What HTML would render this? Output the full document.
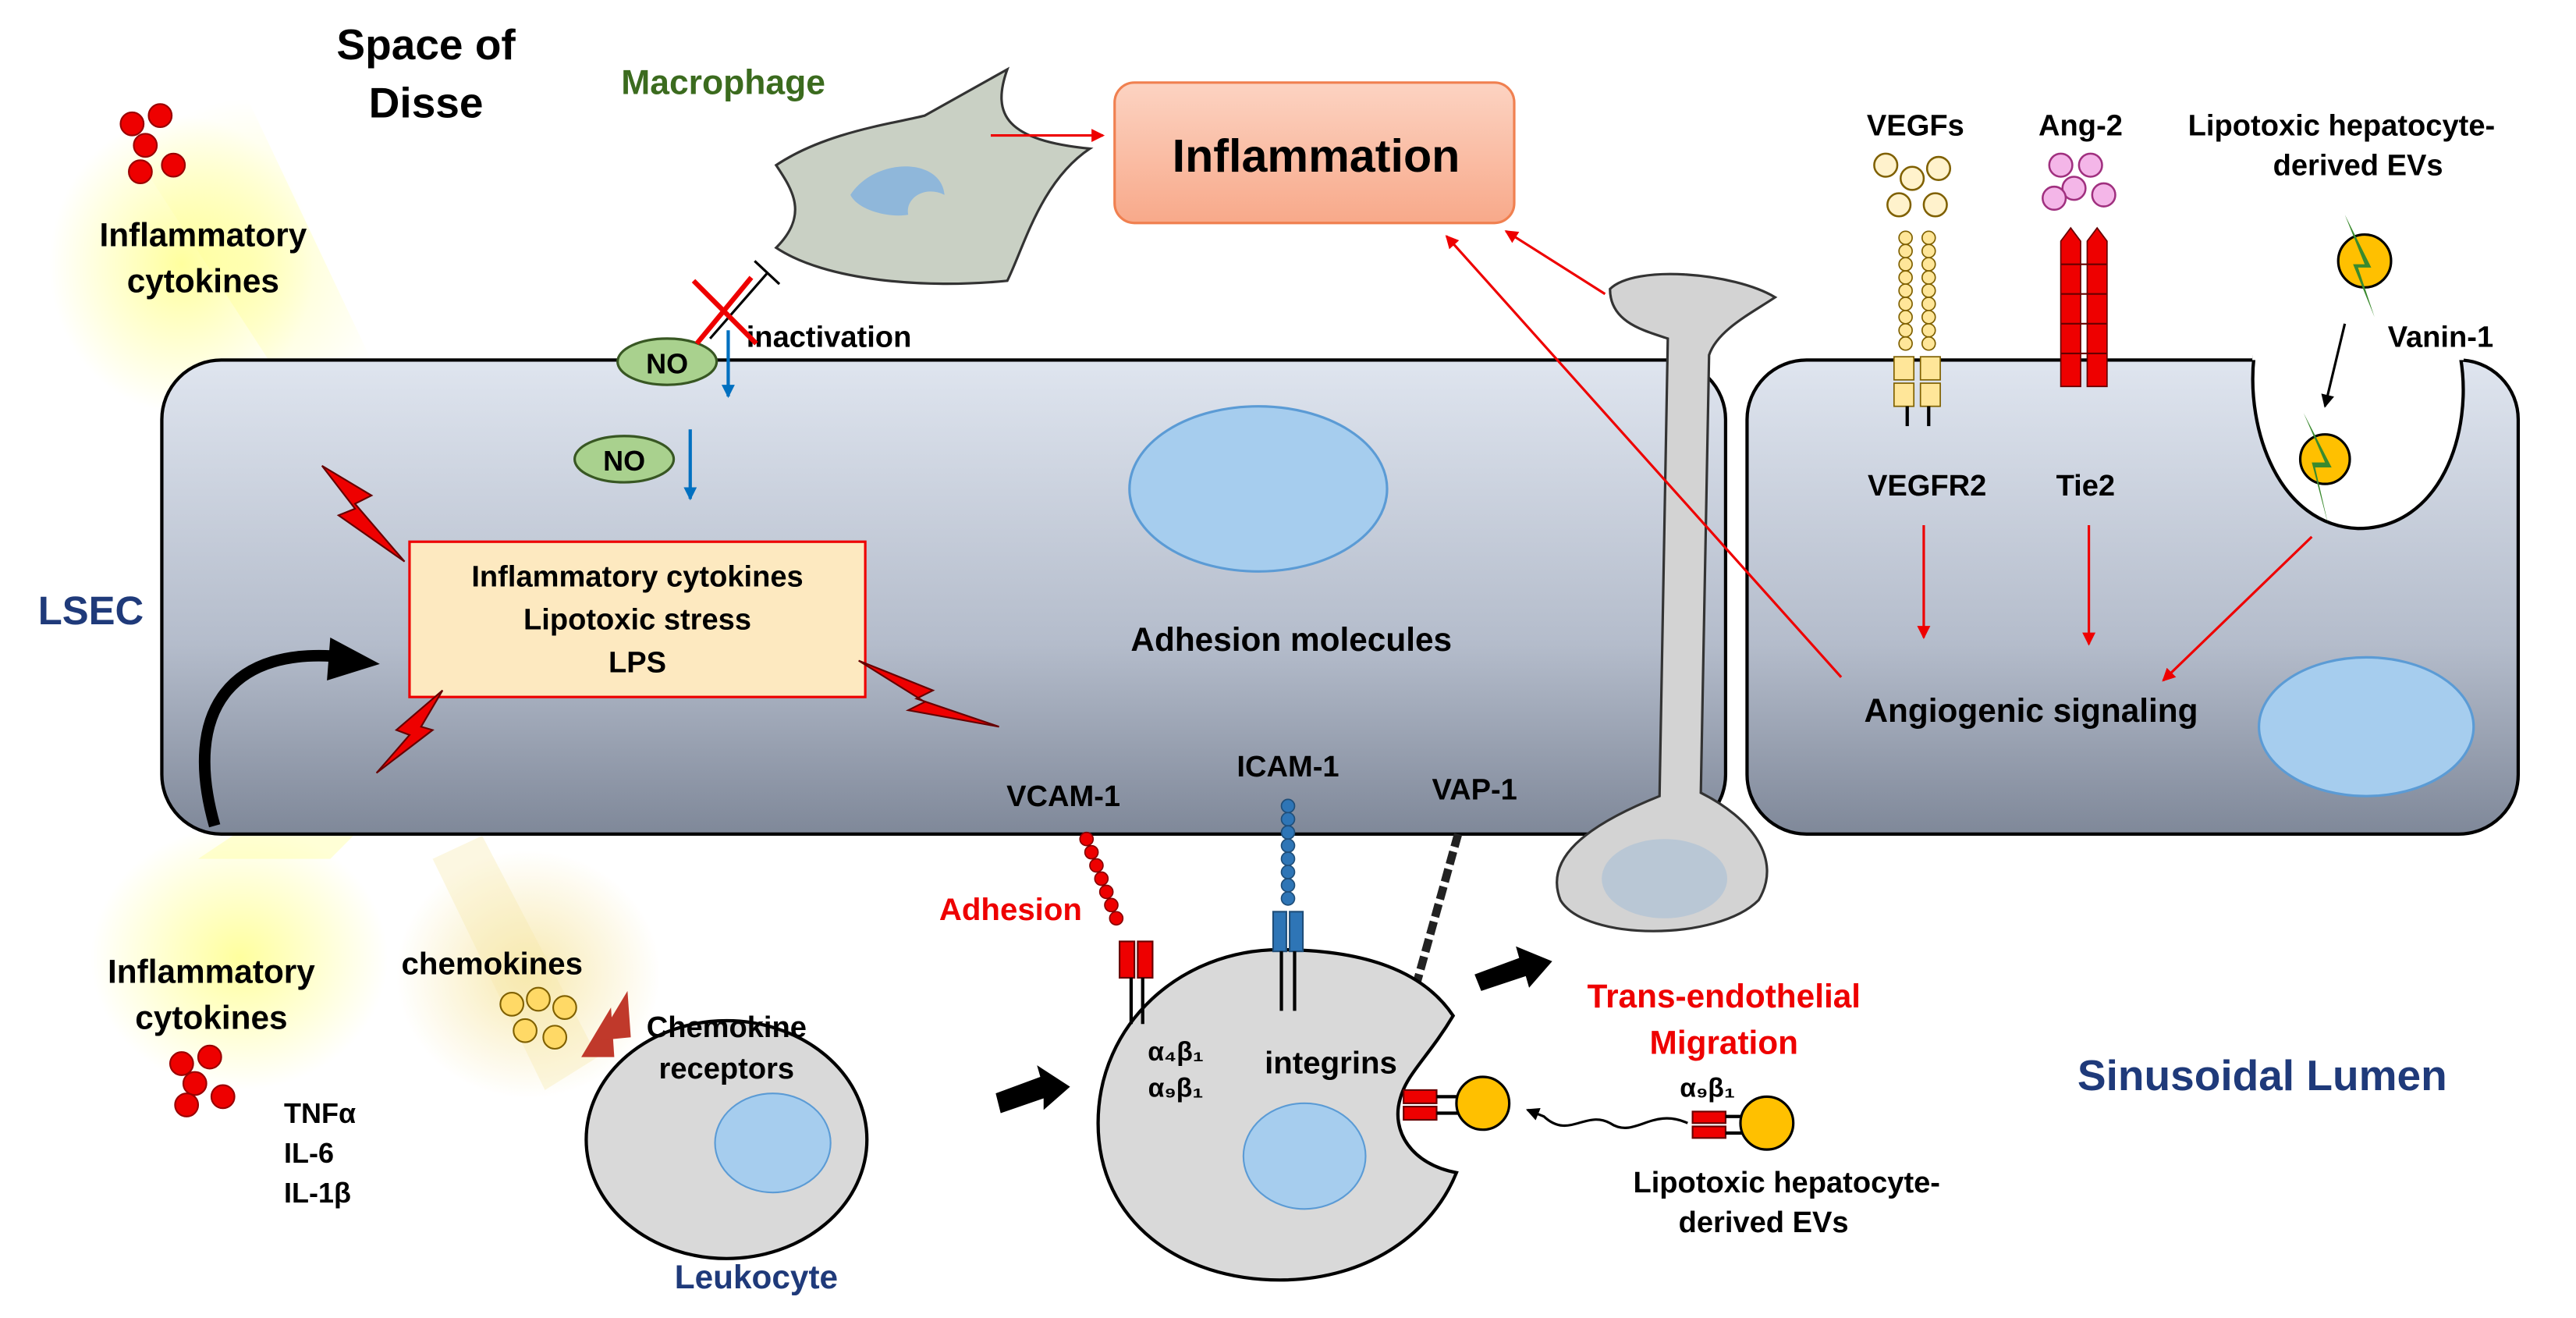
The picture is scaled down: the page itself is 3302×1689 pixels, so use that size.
<!DOCTYPE html>
<html><head><meta charset="utf-8"><style>
html,body{margin:0;padding:0;background:#fff}
svg{display:block}
text{font-family:"Liberation Sans",Arial,sans-serif;font-weight:bold}
</style></head><body>
<svg width="3302" height="1689" viewBox="0 0 1560 798" preserveAspectRatio="none" xmlns="http://www.w3.org/2000/svg">
<defs>
<linearGradient id="cell" x1="0" y1="0" x2="0" y2="1">
<stop offset="0" stop-color="#dfe5ef"/><stop offset="0.6" stop-color="#b4bccb"/><stop offset="1" stop-color="#7f8899"/></linearGradient>
<radialGradient id="glow"><stop offset="0" stop-color="#ffff99" stop-opacity="0.95"/><stop offset="1" stop-color="#ffff99" stop-opacity="0"/></radialGradient>
<radialGradient id="glow2"><stop offset="0" stop-color="#f7e7a8" stop-opacity="0.9"/><stop offset="1" stop-color="#f7e7a8" stop-opacity="0"/></radialGradient>
<linearGradient id="infl" x1="0" y1="0" x2="0" y2="1"><stop offset="0" stop-color="#fcd3c2"/><stop offset="1" stop-color="#f8a98a"/></linearGradient>
<marker id="ar" markerWidth="8" markerHeight="8" refX="7" refY="4" orient="auto" markerUnits="userSpaceOnUse"><path d="M0,0 L8,4 L0,8z" fill="#e00"/></marker>
<marker id="ab" markerWidth="8" markerHeight="8" refX="7" refY="4" orient="auto" markerUnits="userSpaceOnUse"><path d="M0,0 L8,4 L0,8z" fill="#0070c0"/></marker>
<marker id="ak" markerWidth="8" markerHeight="8" refX="7" refY="4" orient="auto" markerUnits="userSpaceOnUse"><path d="M0,0 L8,4 L0,8z" fill="#000"/></marker>
</defs>

<!-- glows -->
<ellipse cx="110" cy="160" rx="80" ry="90" fill="url(#glow)"/>
<path d="M60,60 L150,60 L240,250 L190,260z" fill="url(#glow)" opacity="0.6"/>
<ellipse cx="145" cy="580" rx="90" ry="80" fill="url(#glow)"/>
<path d="M120,520 L200,520 L250,470 L210,460z" fill="#ffff99" opacity="0.4"/>
<ellipse cx="320" cy="590" rx="80" ry="75" fill="url(#glow2)"/>
<path d="M262,520 L292,506 L362,640 L330,660z" fill="#f7e7a8" opacity="0.35"/>

<!-- LSEC cells -->
<rect x="98" y="218" width="947" height="287" rx="36" fill="url(#cell)" stroke="#000" stroke-width="2"/>
<rect x="1058" y="218" width="467" height="287" rx="36" fill="url(#cell)" stroke="#000" stroke-width="2"/>
<path d="M1365,216 C1360,260 1380,318 1428,320 C1478,320 1498,262 1490,216 z" fill="#fff" stroke="#000" stroke-width="2"/>
<rect x="1364" y="205" width="128" height="13" fill="#fff"/>

<ellipse cx="762" cy="296" rx="78" ry="50" fill="#a6cdee" stroke="#5b9bd5" stroke-width="1.5"/>
<ellipse cx="1433" cy="440" rx="65" ry="42" fill="#a6cdee" stroke="#5b9bd5" stroke-width="1.5"/>

<!-- migrating cell -->
<path d="M975,175 C990,160 1050,165 1075,180 C1060,190 1040,200 1035,215 L1030,480 C1060,495 1080,520 1065,545 C1040,570 960,570 945,545 C935,520 960,500 1005,482 L1010,205 C995,200 975,195 975,175z" fill="#d3d3d3" stroke="#333" stroke-width="1.5"/>
<ellipse cx="1008" cy="532" rx="38" ry="24" fill="#b3c4d6" opacity="0.8"/>

<!-- macrophage -->
<path d="M470,100 C500,80 540,75 560,70 L610,42 C600,70 610,85 660,90 C630,110 620,150 610,170 C560,175 500,170 470,150 C490,130 480,115 470,100z" fill="#c9d0c4" stroke="#333" stroke-width="1.5"/>
<path d="M515,118 C530,95 570,95 572,118 C560,112 548,120 550,130 C540,132 520,128 515,118z" fill="#8fb7da"/>
<text x="438" y="57" font-size="21" fill="#3b6b1e" text-anchor="middle">Macrophage</text>
<text x="258" y="36" font-size="26" text-anchor="middle">Space of</text>
<text x="258" y="71" font-size="26" text-anchor="middle">Disse</text>

<!-- inflammation -->
<rect x="675" y="50" width="242" height="85" rx="12" fill="url(#infl)" stroke="#f08050" stroke-width="1.5"/>
<text x="797" y="104" font-size="28" text-anchor="middle">Inflammation</text>
<line x1="600" y1="82" x2="668" y2="82" stroke="#e00" stroke-width="1.5" marker-end="url(#ar)"/>
<line x1="972" y1="178" x2="912" y2="140" stroke="#e00" stroke-width="1.5" marker-end="url(#ar)"/>
<line x1="1115" y1="410" x2="876" y2="143" stroke="#e00" stroke-width="1.5" marker-end="url(#ar)"/>

<!-- cytokine dots -->
<g fill="#e00" stroke="#900" stroke-width="1">
<circle cx="80" cy="75" r="7"/><circle cx="97" cy="70" r="7"/><circle cx="88" cy="88" r="7"/><circle cx="105" cy="100" r="7"/><circle cx="85" cy="104" r="7"/>
<circle cx="110" cy="644" r="7"/><circle cx="127" cy="640" r="7"/><circle cx="118" cy="656" r="7"/><circle cx="135" cy="664" r="7"/><circle cx="113" cy="669" r="7"/>
</g>
<text x="123" y="149" font-size="20" text-anchor="middle">Inflammatory</text>
<text x="123" y="177" font-size="20" text-anchor="middle">cytokines</text>
<text x="128" y="595" font-size="20" text-anchor="middle">Inflammatory</text>
<text x="128" y="623" font-size="20" text-anchor="middle">cytokines</text>
<text x="172" y="680" font-size="17">TNFα</text>
<text x="172" y="704" font-size="17">IL-6</text>
<text x="172" y="728" font-size="17">IL-1β</text>

<text x="55" y="378" font-size="24" fill="#1f3a7a" text-anchor="middle">LSEC</text>

<!-- stress box -->
<rect x="248" y="328" width="276" height="94" fill="#fde9c0" stroke="#e00" stroke-width="1.5"/>
<text x="386" y="355" font-size="18" text-anchor="middle">Inflammatory cytokines</text>
<text x="386" y="381" font-size="18" text-anchor="middle">Lipotoxic stress</text>
<text x="386" y="407" font-size="18" text-anchor="middle">LPS</text>

<!-- lightning -->
<g fill="#e00" stroke="#600" stroke-width="1">
<path d="M195,282 L225,300 L215,305 L245,340 L205,312 L215,308z"/>
<path d="M520,400 L565,418 L555,423 L605,440 L550,430 L560,425z"/>
<path d="M268,418 L255,440 L262,442 L228,468 L248,445 L240,442z"/>
</g>
<path d="M130,500 C110,430 140,390 210,398" fill="none" stroke="#000" stroke-width="7"/>
<path d="M200,386 L230,402 L198,412z" fill="#000"/>

<!-- NO -->
<ellipse cx="404" cy="219" rx="30" ry="14" fill="#a9d18e" stroke="#385723" stroke-width="1.5"/>
<text x="404" y="226" font-size="17" text-anchor="middle">NO</text>
<ellipse cx="378" cy="278" rx="30" ry="14" fill="#a9d18e" stroke="#385723" stroke-width="1.5"/>
<text x="378" y="285" font-size="17" text-anchor="middle">NO</text>
<line x1="441" y1="200" x2="441" y2="240" stroke="#0070c0" stroke-width="2" marker-end="url(#ab)"/>
<line x1="418" y1="260" x2="418" y2="302" stroke="#0070c0" stroke-width="2" marker-end="url(#ab)"/>
<text x="452" y="210" font-size="18">inactivation</text>
<line x1="430" y1="205" x2="465" y2="165" stroke="#000" stroke-width="1.5"/>
<line x1="457" y1="158" x2="472" y2="172" stroke="#000" stroke-width="1.5"/>
<line x1="420" y1="170" x2="458" y2="208" stroke="#e00" stroke-width="3"/>
<line x1="455" y1="168" x2="422" y2="208" stroke="#e00" stroke-width="3"/>

<text x="782" y="394" font-size="20" text-anchor="middle">Adhesion molecules</text>

<!-- receptors on LSEC bottom -->
<text x="644" y="488" font-size="18" text-anchor="middle">VCAM-1</text>
<text x="780" y="470" font-size="18" text-anchor="middle">ICAM-1</text>
<text x="893" y="484" font-size="18" text-anchor="middle">VAP-1</text>
<g fill="#e00" stroke="#800" stroke-width="0.8">
<circle cx="658" cy="508" r="4"/><circle cx="661" cy="516" r="4"/><circle cx="664" cy="524" r="4"/><circle cx="667" cy="532" r="4"/><circle cx="670" cy="540" r="4"/><circle cx="673" cy="548" r="4"/><circle cx="676" cy="556" r="4"/>
</g>
<g fill="#2e75b6" stroke="#1f4e79" stroke-width="0.8">
<circle cx="780" cy="488" r="4"/><circle cx="780" cy="496" r="4"/><circle cx="780" cy="504" r="4"/><circle cx="780" cy="512" r="4"/><circle cx="780" cy="520" r="4"/><circle cx="780" cy="528" r="4"/><circle cx="780" cy="536" r="4"/><circle cx="780" cy="544" r="4"/>
</g>
<line x1="883" y1="505" x2="858" y2="595" stroke="#222" stroke-width="5" stroke-dasharray="8,3"/>
<text x="612" y="557" font-size="19" fill="#e00" text-anchor="middle">Adhesion</text>

<!-- leukocytes -->
<ellipse cx="440" cy="690" rx="85" ry="72" fill="#d9d9d9" stroke="#000" stroke-width="2"/>
<ellipse cx="468" cy="692" rx="35" ry="30" fill="#a6cdee" stroke="#5b9bd5"/>
<text x="440" y="628" font-size="18" text-anchor="middle">Chemokine</text>
<text x="440" y="653" font-size="18" text-anchor="middle">receptors</text>
<path d="M352,640 L370,610 L372,640z" fill="#c0392b"/>
<path d="M362,630 L380,600 L382,628z" fill="#c0392b"/>
<g fill="#ffd966" stroke="#7f6000" stroke-width="1">
<circle cx="310" cy="608" r="7"/><circle cx="326" cy="605" r="7"/><circle cx="342" cy="610" r="7"/><circle cx="318" cy="624" r="7"/><circle cx="336" cy="628" r="7"/>
</g>
<text x="298" y="590" font-size="19" text-anchor="middle">chemokines</text>
<text x="458" y="780" font-size="20" fill="#1f3a7a" text-anchor="middle">Leukocyte</text>
<path d="M603,662 L630,652 L628,645 L648,658 L632,672 L632,665 L606,674z" fill="#000"/>

<path d="M880,615 C860,585 820,575 775,575 C715,575 665,620 665,680 C665,740 715,775 775,775 C830,775 868,745 882,710 C855,705 842,685 848,665 C852,650 865,640 880,615z" fill="#d9d9d9" stroke="#000" stroke-width="2"/>
<ellipse cx="790" cy="700" rx="37" ry="32" fill="#a6cdee" stroke="#5b9bd5"/>
<text x="806" y="650" font-size="19" text-anchor="middle">integrins</text>
<text x="712" y="642" font-size="16" text-anchor="middle">α₄β₁</text>
<text x="712" y="664" font-size="16" text-anchor="middle">α₉β₁</text>
<rect x="678" y="570" width="9" height="22" fill="#e00" stroke="#600"/><rect x="689" y="570" width="9" height="22" fill="#e00" stroke="#600"/>
<line x1="685" y1="592" x2="685" y2="620" stroke="#000" stroke-width="2"/><line x1="692" y1="592" x2="692" y2="620" stroke="#000" stroke-width="2"/>
<rect x="771" y="552" width="8" height="24" fill="#2e75b6" stroke="#1f4e79"/><rect x="781" y="552" width="8" height="24" fill="#2e75b6" stroke="#1f4e79"/>
<line x1="776" y1="576" x2="776" y2="612" stroke="#000" stroke-width="2"/><line x1="784" y1="576" x2="784" y2="612" stroke="#000" stroke-width="2"/>
<!-- EV in pocket -->
<rect x="850" y="660" width="20" height="8" fill="#e00" stroke="#600"/><rect x="850" y="670" width="20" height="8" fill="#e00" stroke="#600"/>
<line x1="870" y1="664" x2="892" y2="664" stroke="#000" stroke-width="2"/><line x1="870" y1="674" x2="892" y2="674" stroke="#000" stroke-width="2"/>
<circle cx="898" cy="668" r="16" fill="#ffc000" stroke="#000" stroke-width="1.5"/>
<path d="M1022,680 C1000,670 990,690 975,680 C960,672 950,690 935,676 L925,672" fill="none" stroke="#000" stroke-width="1.5" marker-end="url(#ak)"/>
<rect x="1025" y="673" width="20" height="7" fill="#e00" stroke="#600"/><rect x="1025" y="682" width="20" height="7" fill="#e00" stroke="#600"/>
<line x1="1045" y1="676" x2="1062" y2="676" stroke="#000" stroke-width="2"/><line x1="1045" y1="686" x2="1062" y2="686" stroke="#000" stroke-width="2"/>
<circle cx="1070" cy="680" r="16" fill="#ffc000" stroke="#000" stroke-width="1.5"/>
<text x="1034" y="664" font-size="16" text-anchor="middle">α₉β₁</text>
<text x="1082" y="722" font-size="18" text-anchor="middle">Lipotoxic hepatocyte-</text>
<text x="1068" y="746" font-size="18" text-anchor="middle">derived  EVs</text>

<path d="M893,590 L920,580 L918,573 L940,582 L926,598 L924,591 L897,600z" fill="#000"/>
<text x="1044" y="610" font-size="20" fill="#e00" text-anchor="middle">Trans-endothelial</text>
<text x="1044" y="638" font-size="20" fill="#e00" text-anchor="middle">Migration</text>
<text x="1370" y="660" font-size="26" fill="#1f3a7a" text-anchor="middle">Sinusoidal Lumen</text>

<!-- right cell receptors -->
<text x="1160" y="82" font-size="18" text-anchor="middle">VEGFs</text>
<text x="1260" y="82" font-size="18" text-anchor="middle">Ang-2</text>
<g fill="#fff2cc" stroke="#7f6000" stroke-width="1.2">
<circle cx="1142" cy="100" r="7"/><circle cx="1158" cy="108" r="7"/><circle cx="1174" cy="102" r="7"/><circle cx="1150" cy="124" r="7"/><circle cx="1172" cy="124" r="7"/>
</g>
<g fill="#f4b6e8" stroke="#a0307f" stroke-width="1.2">
<circle cx="1248" cy="100" r="7"/><circle cx="1266" cy="100" r="7"/><circle cx="1256" cy="114" r="7"/><circle cx="1274" cy="118" r="7"/><circle cx="1244" cy="120" r="7"/>
</g>
<g fill="#ffe699" stroke="#7f6000" stroke-width="0.8">
<circle cx="1154" cy="144" r="4"/><circle cx="1154" cy="152" r="4"/><circle cx="1154" cy="160" r="4"/><circle cx="1154" cy="168" r="4"/><circle cx="1154" cy="176" r="4"/><circle cx="1154" cy="184" r="4"/><circle cx="1154" cy="192" r="4"/><circle cx="1154" cy="200" r="4"/><circle cx="1154" cy="208" r="4"/>
<circle cx="1168" cy="144" r="4"/><circle cx="1168" cy="152" r="4"/><circle cx="1168" cy="160" r="4"/><circle cx="1168" cy="168" r="4"/><circle cx="1168" cy="176" r="4"/><circle cx="1168" cy="184" r="4"/><circle cx="1168" cy="192" r="4"/><circle cx="1168" cy="200" r="4"/><circle cx="1168" cy="208" r="4"/>
<rect x="1147" y="216" width="12" height="14"/><rect x="1163" y="216" width="12" height="14"/>
<rect x="1147" y="232" width="12" height="14"/><rect x="1163" y="232" width="12" height="14"/>
</g>
<line x1="1155" y1="246" x2="1155" y2="258" stroke="#000" stroke-width="2"/><line x1="1168" y1="246" x2="1168" y2="258" stroke="#000" stroke-width="2"/>
<g fill="#e00" stroke="#600" stroke-width="0.8">
<path d="M1248,146 L1254,138 L1260,146 L1260,234 L1248,234z"/><path d="M1264,146 L1270,138 L1276,146 L1276,234 L1264,234z"/>
</g>
<g stroke="#600" stroke-width="1"><line x1="1248" y1="160" x2="1276" y2="160"/><line x1="1248" y1="178" x2="1276" y2="178"/><line x1="1248" y1="196" x2="1276" y2="196"/><line x1="1248" y1="214" x2="1276" y2="214"/></g>
<text x="1167" y="300" font-size="18" text-anchor="middle">VEGFR2</text>
<text x="1263" y="300" font-size="18" text-anchor="middle">Tie2</text>
<text x="1418" y="82" font-size="18" text-anchor="middle">Lipotoxic hepatocyte-</text>
<text x="1428" y="106" font-size="18" text-anchor="middle">derived  EVs</text>
<text x="1478" y="210" font-size="18" text-anchor="middle">Vanin-1</text>
<circle cx="1432" cy="158" r="16" fill="#ffc000" stroke="#000" stroke-width="1.5"/>
<path d="M1420,130 L1432,160 L1425,160 L1438,192 L1428,162 L1436,162z" fill="#3a8a2e"/>
<circle cx="1408" cy="278" r="15" fill="#ffc000" stroke="#000" stroke-width="1.5"/>
<path d="M1395,250 L1408,280 L1400,280 L1410,318 L1402,283 L1412,283z" fill="#3a8a2e"/>
<line x1="1420" y1="196" x2="1408" y2="246" stroke="#000" stroke-width="1.5" marker-end="url(#ak)"/>
<line x1="1165" y1="318" x2="1165" y2="386" stroke="#e00" stroke-width="1.5" marker-end="url(#ar)"/>
<line x1="1265" y1="318" x2="1265" y2="390" stroke="#e00" stroke-width="1.5" marker-end="url(#ar)"/>
<line x1="1400" y1="325" x2="1310" y2="412" stroke="#e00" stroke-width="1.5" marker-end="url(#ar)"/>
<text x="1230" y="437" font-size="20" text-anchor="middle">Angiogenic signaling</text>
</svg>
</body></html>
